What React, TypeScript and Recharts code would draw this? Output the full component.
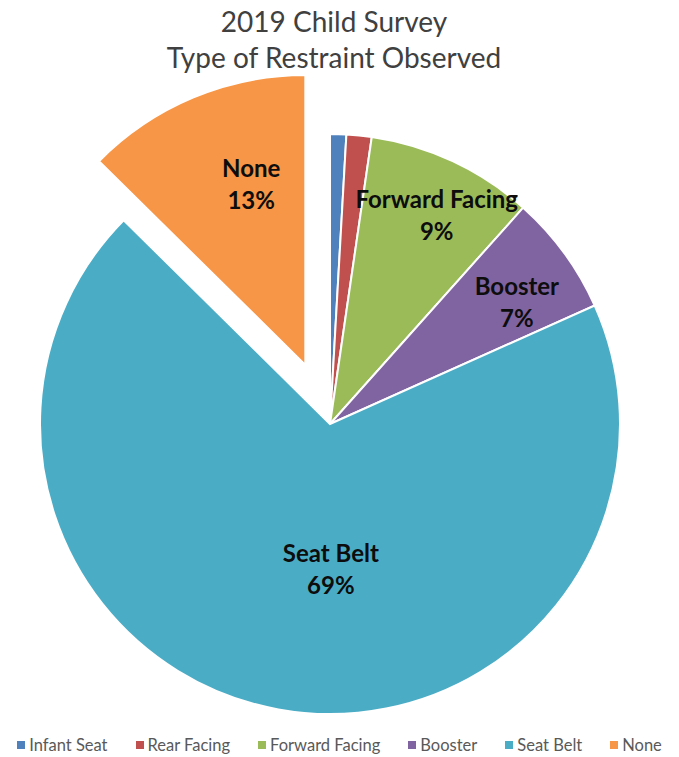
import React from 'react';
import { PieChart, Pie, Cell, Sector, Legend } from 'recharts';

const categories = ['Infant Seat', 'Rear Facing', 'Forward Facing', 'Booster', 'Seat Belt', 'None'];
const shares = [0.9, 1.4, 9.3, 6.7, 69.1, 12.6];
const colors = ['#4F81BD', '#C0504D', '#9BBB59', '#8064A2', '#4BACC6', '#F79646'];
const labelled = ['Forward Facing', 'Booster', 'Seat Belt', 'None'];

const data = categories.map((name, i) => ({ name, value: shares[i] }));

const RAD = Math.PI / 180;
const EXPLODE = 'None';
const EXPLODE_DIST = 64;

// label radius (fraction of outer radius) and angle nudge, roughly like Excel's best fit
const labelPos: Record<string, { r: number; shift: number }> = {
  'Forward Facing': { r: 0.81, shift: -2 },
  Booster: { r: 0.77, shift: -3 },
  'Seat Belt': { r: 0.5, shift: 10.6 },
  None: { r: 0.65, shift: -6 },
};

const offsetFor = (name: string, midAngle: number) => {
  if (name !== EXPLODE) return { dx: 0, dy: 0 };
  return {
    dx: EXPLODE_DIST * Math.cos(-midAngle * RAD),
    dy: EXPLODE_DIST * Math.sin(-midAngle * RAD),
  };
};

const renderShape = (props: any) => {
  const name = props.name ?? props.payload?.name;
  const { dx, dy } = offsetFor(name, props.midAngle);
  return (
    <Sector
      cx={props.cx + dx}
      cy={props.cy + dy}
      innerRadius={props.innerRadius}
      outerRadius={props.outerRadius}
      startAngle={props.startAngle}
      endAngle={props.endAngle}
      fill={props.fill}
      stroke="#fff"
      strokeWidth={2}
    />
  );
};

const renderLabel = (props: any) => {
  const name = props.name ?? props.payload?.name;
  if (!labelled.includes(name)) return null;
  const pos = labelPos[name];
  const { dx, dy } = offsetFor(name, props.midAngle);
  const a = (props.midAngle + pos.shift) * RAD;
  const r = props.outerRadius * pos.r;
  const x = props.cx + dx + r * Math.cos(-a);
  const y = props.cy + dy + r * Math.sin(-a);
  return (
    <text
      x={x}
      y={y}
      textAnchor="middle"
      fill="#0d0d0d"
      style={{ fontFamily: 'Lato, sans-serif', fontSize: 24, fontWeight: 700 }}
    >
      <tspan x={x} dy={-7}>{name}</tspan>
      <tspan x={x} dy={32}>{Math.round(props.percent * 100)}%</tspan>
    </text>
  );
};

const LegendRow = () => (
  <div style={{ display: 'flex', justifyContent: 'center', gap: 28, fontFamily: 'Lato, sans-serif', fontSize: 16.5, color: '#595959' }}>
    {categories.map((c, i) => (
      <div key={c} style={{ display: 'flex', alignItems: 'center', gap: 4 }}>
        <div style={{ width: 8, height: 8, background: colors[i] }} />
        <span>{c}</span>
      </div>
    ))}
  </div>
);

export default function App() {
  return (
    <div style={{ position: 'absolute', top: 0, left: 0, width: 679, height: 757, background: '#fff' }}>
      <div style={{
        position: 'absolute', top: 3, left: 0, width: 668, textAlign: 'center',
        fontFamily: 'Lato, sans-serif', fontSize: 28, lineHeight: '36px', color: '#404040',
      }}>
        <div>2019 Child Survey</div>
        <div>Type of Restraint Observed</div>
      </div>
      <PieChart width={679} height={757}>
        <Pie
          data={data}
          dataKey="value"
          nameKey="name"
          cx={325}
          cy={419}
          outerRadius={290}
          startAngle={90}
          endAngle={-270}
          shape={renderShape}
          label={renderLabel}
          labelLine={false}
          isAnimationActive={false}
        >
          {data.map((d, i) => (
            <Cell key={d.name} fill={colors[i]} />
          ))}
        </Pie>
        <Legend verticalAlign="bottom" wrapperStyle={{ bottom: 2 }} content={<LegendRow />} />
      </PieChart>
    </div>
  );
}
